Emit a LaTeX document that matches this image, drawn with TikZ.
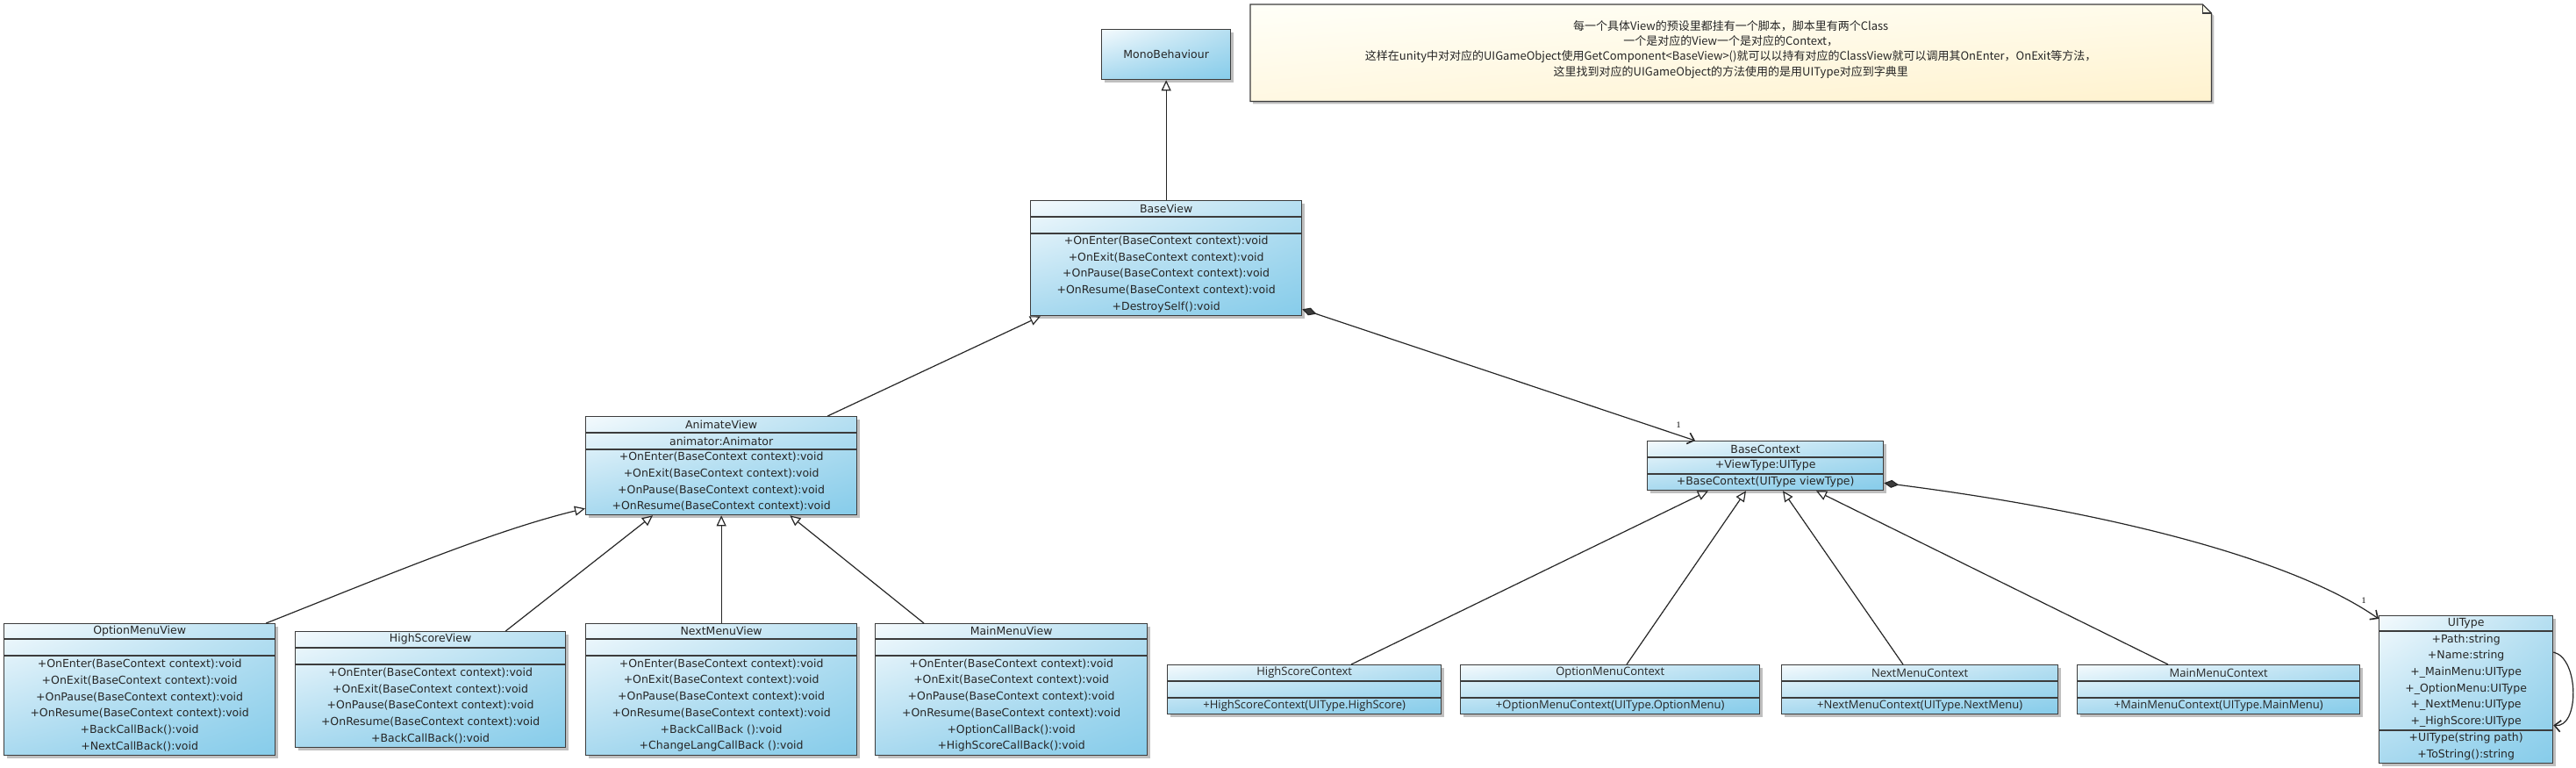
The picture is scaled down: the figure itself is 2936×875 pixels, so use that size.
\documentclass[tikz,border=0pt]{standalone}
\usepackage{fontspec}
\setmainfont{DejaVu Sans}
\newfontfamily\cjk{Noto Sans CJK SC}
\newfontfamily\ctxfont{Open Sans}
\newfontfamily\multfont{Liberation Serif}
\usetikzlibrary{arrows.meta,shadows,shadings,calc}
\definecolor{bord}{HTML}{3C3C3C}
\definecolor{clsUL}{HTML}{F4FAFD}
\definecolor{clsUR}{HTML}{B6DFF1}
\definecolor{clsLL}{HTML}{A8D9EF}
\definecolor{clsLR}{HTML}{86CCEA}
\definecolor{noteUL}{HTML}{FFFFF8}
\definecolor{noteUR}{HTML}{FFFBEA}
\definecolor{noteLL}{HTML}{FFF8E2}
\definecolor{noteLR}{HTML}{FFF2CE}
\begin{document}
\begin{tikzpicture}[x=1pt,y=-1pt,
  cls/.style={draw=bord, line width=1.3pt, upper left=clsUL, upper right=clsUR,
    lower left=clsLL, lower right=clsLR,
    drop shadow={shadow xshift=3pt,shadow yshift=-3pt,fill=black,opacity=0.25},
    inner sep=0pt, anchor=north west},
  sep/.style={draw=bord, line width=1.2pt},
  txt/.style={inner sep=0pt, align=center, font=\fontsize{12.5}{18.7}\selectfont, text=black!85},
  ctx/.style={inner sep=0pt, align=center, font=\ctxfont\fontsize{13}{18.7}\selectfont, text=black!85},
  conn/.style={draw=black!85, line width=1.2pt},
  inh/.style={conn, -{Triangle[width=11pt,length=12pt,fill=white,line width=1.2pt]}},
  assoc/.style={conn, {Diamond[width=9pt,length=17pt,fill=bord]}-{Straight Barb[length=7pt,width=13pt,line width=1.6pt]}},
  mult/.style={inner sep=0pt, font=\multfont\fontsize{10}{10}\selectfont}
]
\useasboundingbox (0,0) rectangle (2936,875);

% ---------- note ----------
\node[minimum width=1095pt, minimum height=110pt, inner sep=0pt, anchor=north west] (note) at (1425,5) {};
\path[draw=bord, line width=1.3pt, upper left=noteUL, upper right=noteUR, lower left=noteLL, lower right=noteLR,
  drop shadow={shadow xshift=3pt,shadow yshift=-3pt,fill=black,opacity=0.25}]
  (note.north west) -- ([xshift=-10pt]note.north east) -- ([yshift=-10pt]note.north east)
  -- (note.south east) -- (note.south west) -- cycle;
\draw[line width=1.2pt, draw=bord] ([xshift=-10pt]note.north east) -- ([xshift=-10pt,yshift=-10pt]note.north east) -- ([yshift=-10pt]note.north east);
\node[inner sep=0pt, align=center, font=\cjk\fontsize{13}{17.3}\selectfont, text=black!85] (notetext) at ($(note.center)+(0,-4)$)
 {每一个具体View的预设里都挂有一个脚本，脚本里有两个Class\\
  一个是对应的View一个是对应的Context，\\
  这样在unity中对对应的UIGameObject使用GetComponent<BaseView>()就可以以持有对应的ClassView就可以调用其OnEnter，OnExit等方法，\\
  这里找到对应的UIGameObject的方法使用的是用UIType对应到字典里};

% ---------- MonoBehaviour ----------
\node[cls, minimum width=147pt, minimum height=57pt] (mono) at (1255,33) {};
\node[txt] (mono-n) at (mono.center) {MonoBehaviour};

% ---------- BaseView ----------
\node[cls, minimum width=309pt, minimum height=131pt] (bv) at (1174,228) {};
\draw[sep] ($(bv.north west)+(0,19)$) -- ($(bv.north east)+(0,19)$);
\draw[sep] ($(bv.north west)+(0,38)$) -- ($(bv.north east)+(0,38)$);
\node[txt] (bv-n) at ($(bv.north)+(0,9.5)$) {BaseView};
\node[txt] (bv-o) at ($(bv.north)+(0,84.5)$) {+OnEnter(BaseContext context):void\\+OnExit(BaseContext context):void\\+OnPause(BaseContext context):void\\+OnResume(BaseContext context):void\\+DestroySelf():void};

% ---------- AnimateView ----------
\node[cls, minimum width=309pt, minimum height=112pt] (av) at (667,474) {};
\draw[sep] ($(av.north west)+(0,19)$) -- ($(av.north east)+(0,19)$);
\draw[sep] ($(av.north west)+(0,38)$) -- ($(av.north east)+(0,38)$);
\node[txt] (av-n) at ($(av.north)+(0,9.5)$) {AnimateView};
\node[txt] (av-a) at ($(av.north)+(0,28.5)$) {animator:Animator};
\node[txt] (av-o) at ($(av.north)+(0,75)$) {+OnEnter(BaseContext context):void\\+OnExit(BaseContext context):void\\+OnPause(BaseContext context):void\\+OnResume(BaseContext context):void};

% ---------- OptionMenuView ----------
\node[cls, minimum width=309pt, minimum height=150pt] (omv) at (4,710) {};
\draw[sep] ($(omv.north west)+(0,18)$) -- ($(omv.north east)+(0,18)$);
\draw[sep] ($(omv.north west)+(0,37)$) -- ($(omv.north east)+(0,37)$);
\node[txt] (omv-n) at ($(omv.north)+(0,9)$) {OptionMenuView};
\node[txt] (omv-o) at ($(omv.north)+(0,93.5)$) {+OnEnter(BaseContext context):void\\+OnExit(BaseContext context):void\\+OnPause(BaseContext context):void\\+OnResume(BaseContext context):void\\+BackCallBack():void\\+NextCallBack():void};

% ---------- HighScoreView ----------
\node[cls, minimum width=308pt, minimum height=132pt] (hsv) at (336,719) {};
\draw[sep] ($(hsv.north west)+(0,19)$) -- ($(hsv.north east)+(0,19)$);
\draw[sep] ($(hsv.north west)+(0,38)$) -- ($(hsv.north east)+(0,38)$);
\node[txt] (hsv-n) at ($(hsv.north)+(0,9.5)$) {HighScoreView};
\node[txt] (hsv-o) at ($(hsv.north)+(0,85)$) {+OnEnter(BaseContext context):void\\+OnExit(BaseContext context):void\\+OnPause(BaseContext context):void\\+OnResume(BaseContext context):void\\+BackCallBack():void};

% ---------- NextMenuView ----------
\node[cls, minimum width=309pt, minimum height=150pt] (nmv) at (667,710) {};
\draw[sep] ($(nmv.north west)+(0,18)$) -- ($(nmv.north east)+(0,18)$);
\draw[sep] ($(nmv.north west)+(0,37)$) -- ($(nmv.north east)+(0,37)$);
\node[txt] (nmv-n) at ($(nmv.north)+(0,9)$) {NextMenuView};
\node[txt] (nmv-o) at ($(nmv.north)+(0,93.5)$) {+OnEnter(BaseContext context):void\\+OnExit(BaseContext context):void\\+OnPause(BaseContext context):void\\+OnResume(BaseContext context):void\\+BackCallBack ():void\\+ChangeLangCallBack ():void};

% ---------- MainMenuView ----------
\node[cls, minimum width=310pt, minimum height=150pt] (mmv) at (997,710) {};
\draw[sep] ($(mmv.north west)+(0,18)$) -- ($(mmv.north east)+(0,18)$);
\draw[sep] ($(mmv.north west)+(0,37)$) -- ($(mmv.north east)+(0,37)$);
\node[txt] (mmv-n) at ($(mmv.north)+(0,9)$) {MainMenuView};
\node[txt] (mmv-o) at ($(mmv.north)+(0,93.5)$) {+OnEnter(BaseContext context):void\\+OnExit(BaseContext context):void\\+OnPause(BaseContext context):void\\+OnResume(BaseContext context):void\\+OptionCallBack():void\\+HighScoreCallBack():void};

% ---------- BaseContext ----------
\node[cls, minimum width=269pt, minimum height=56pt] (bc) at (1877,502) {};
\draw[sep] ($(bc.north west)+(0,19)$) -- ($(bc.north east)+(0,19)$);
\draw[sep] ($(bc.north west)+(0,38)$) -- ($(bc.north east)+(0,38)$);
\node[txt] (bc-n) at ($(bc.north)+(0,9.5)$) {BaseContext};
\node[txt] (bc-a) at ($(bc.north)+(0,28.5)$) {+ViewType:UIType};
\node[txt] (bc-o) at ($(bc.north)+(0,47)$) {+BaseContext(UIType viewType)};

% ---------- UIType ----------
\node[cls, minimum width=198pt, minimum height=168pt] (ui) at (2711,701) {};
\draw[sep] ($(ui.north west)+(0,18)$) -- ($(ui.north east)+(0,18)$);
\draw[sep] ($(ui.north west)+(0,131)$) -- ($(ui.north east)+(0,131)$);
\node[txt] (ui-n) at ($(ui.north)+(0,9)$) {UIType};
\node[txt] (ui-a) at ($(ui.north)+(0,74.5)$) {+Path:string\\+Name:string\\+\_MainMenu:UIType\\+\_OptionMenu:UIType\\+\_NextMenu:UIType\\+\_HighScore:UIType};
\node[txt] (ui-o) at ($(ui.north)+(0,149.5)$) {+UIType(string path)\\+ToString():string};

% ---------- Contexts ----------
\node[cls, minimum width=312pt, minimum height=56pt] (hsc) at (1330,757) {};
\draw[sep] ($(hsc.north west)+(0,19)$) -- ($(hsc.north east)+(0,19)$);
\draw[sep] ($(hsc.north west)+(0,38)$) -- ($(hsc.north east)+(0,38)$);
\node[ctx] (hsc-n) at ($(hsc.north)+(0,9.5)$) {HighScoreContext};
\node[ctx] (hsc-o) at ($(hsc.north)+(0,47)$) {+HighScoreContext(UIType.HighScore)};

\node[cls, minimum width=341pt, minimum height=56pt] (omc) at (1664,757) {};
\draw[sep] ($(omc.north west)+(0,19)$) -- ($(omc.north east)+(0,19)$);
\draw[sep] ($(omc.north west)+(0,38)$) -- ($(omc.north east)+(0,38)$);
\node[ctx] (omc-n) at ($(omc.north)+(0,9.5)$) {OptionMenuContext};
\node[ctx] (omc-o) at ($(omc.north)+(0,47)$) {+OptionMenuContext(UIType.OptionMenu)};

\node[cls, minimum width=315pt, minimum height=56pt] (nmc) at (2030,757) {};
\draw[sep] ($(nmc.north west)+(0,19)$) -- ($(nmc.north east)+(0,19)$);
\draw[sep] ($(nmc.north west)+(0,38)$) -- ($(nmc.north east)+(0,38)$);
\node[ctx] (nmc-n) at ($(nmc.north)+(0,9.5)$) {NextMenuContext};
\node[ctx] (nmc-o) at ($(nmc.north)+(0,47)$) {+NextMenuContext(UIType.NextMenu)};

\node[cls, minimum width=322pt, minimum height=56pt] (mmc) at (2367,757) {};
\draw[sep] ($(mmc.north west)+(0,19)$) -- ($(mmc.north east)+(0,19)$);
\draw[sep] ($(mmc.north west)+(0,38)$) -- ($(mmc.north east)+(0,38)$);
\node[ctx] (mmc-n) at ($(mmc.north)+(0,9.5)$) {MainMenuContext};
\node[ctx] (mmc-o) at ($(mmc.north)+(0,47)$) {+MainMenuContext(UIType.MainMenu)};

% ---------- connectors ----------
\draw[inh] (bv.north) -- (mono.south);
\draw[inh] ([xshift=-34pt]av.north east) -- ([xshift=12pt]bv.south west);
\draw[inh] ([xshift=-11pt]omv.north east) .. controls (430,660) and (560,605) .. ([yshift=8pt]av.south west);
\draw[inh] ([xshift=-69pt]hsv.north east) -- ([xshift=77pt]av.south west);
\draw[inh] (nmv.north) -- (av.south);
\draw[inh] ([xshift=56pt]mmv.north west) -- ([xshift=-77pt]av.south east);

\draw[inh] ([xshift=210pt]hsc.north west) -- ([xshift=70pt]bc.south west);
\draw[inh] ([xshift=190pt]omc.north west) -- ([xshift=113pt]bc.south west);
\draw[inh] ([xshift=139pt]nmc.north west) -- ([xshift=155pt]bc.south west);
\draw[inh] ([xshift=104pt]mmc.north west) -- ([xshift=193pt]bc.south west);

\draw[assoc] ([yshift=8pt]bv.south east) -- ([xshift=55pt]bc.north west);
\node[mult] (m1) at (1913,484) {1};
\draw[assoc] ([yshift=9pt]bc.south east) .. controls (2396,582) and (2611,635) .. ([yshift=-4pt]ui.north west);
\node[mult] (m2) at (2694,684) {1};
\draw[conn, -{Straight Barb[length=7pt,width=13pt,line width=1.6pt]}] ([yshift=-42pt]ui.north east) .. controls (2940,750) and (2940,830) .. ([yshift=44pt]ui.south east);
\end{tikzpicture}
\end{document}
